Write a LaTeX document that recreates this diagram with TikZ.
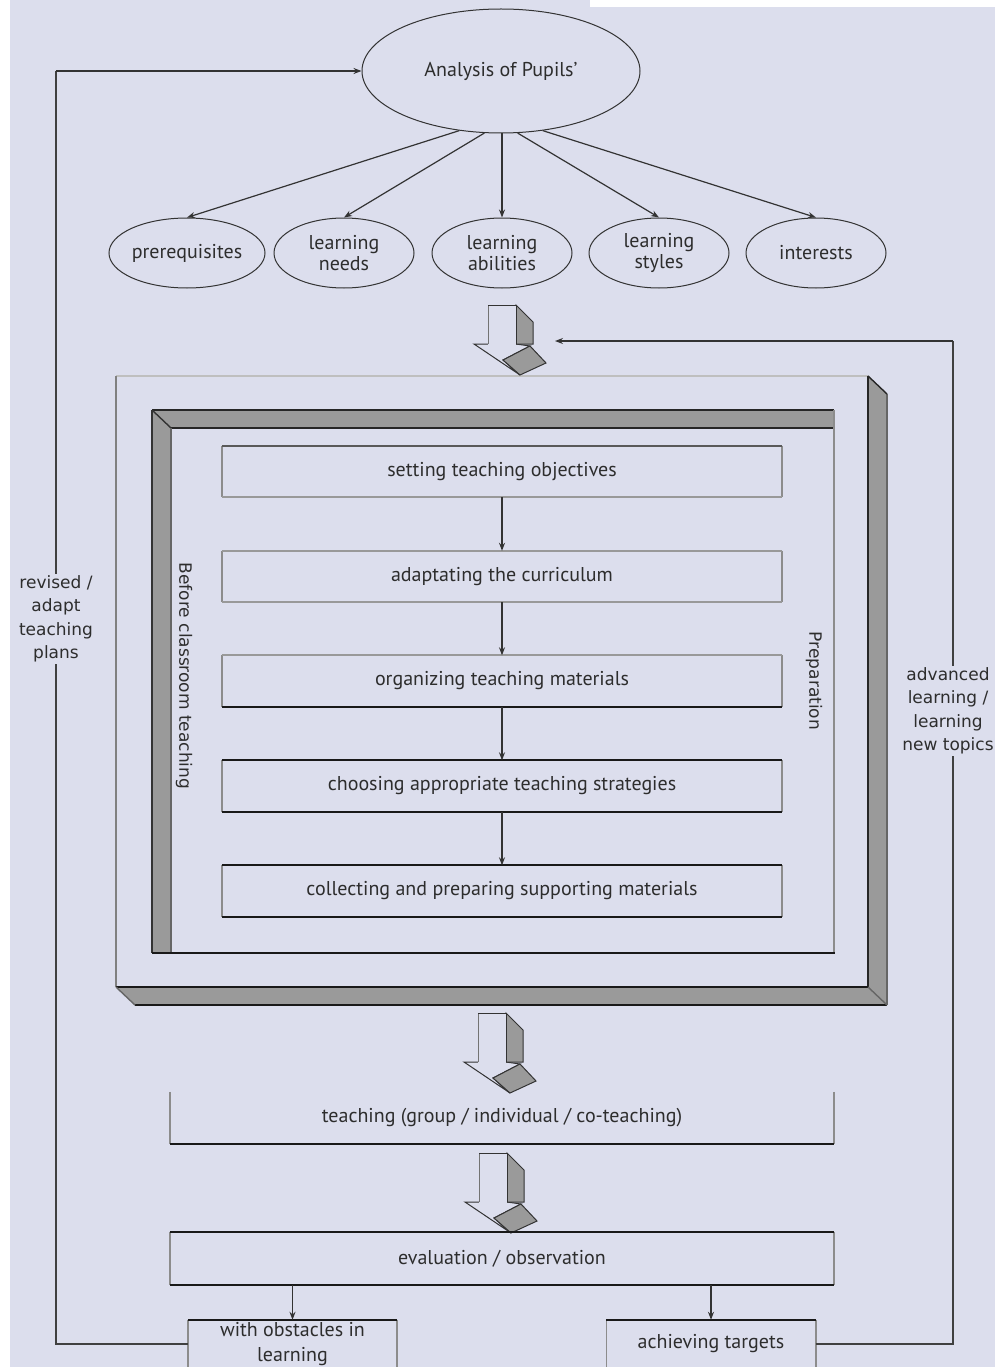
\documentclass[tikz,border=0pt]{standalone}
\usepackage{fontspec}
\setmainfont{PT Sans}
\newfontfamily\sidefont{DejaVu Sans}
\usetikzlibrary{arrows.meta,shapes.geometric}
\definecolor{bg}{RGB}{220,222,237}
\definecolor{greyface}{RGB}{154,154,154}
\definecolor{ink}{RGB}{45,45,45}
\tikzset{
  oval/.style={ellipse, draw=black!80, line width=1pt, inner sep=0pt, align=center,
    text=ink, font=\fontsize{20pt}{21pt}\selectfont},
  bigoval/.style={oval, minimum width=278pt, minimum height=124pt},
  smalloval/.style={oval, minimum width=140pt, minimum height=70pt},
  conn/.style={draw=black!80, line width=1.2pt, -{Stealth[length=8pt,width=6pt]}},
  loopline/.style={draw=black!75, line width=1.6pt},
  boxnode/.style={rectangle, inner sep=0pt, align=center, text=ink,
    font=\fontsize{20pt}{25pt}\selectfont},
  stepbox/.style={boxnode, minimum width=560pt, minimum height=51pt},
  widebox/.style={boxnode, minimum width=664pt, minimum height=52pt},
  endbox/.style={boxnode, minimum width=209pt, minimum height=48pt},
  edgedark/.style={line width=2pt, draw=black!90},
  edgemid/.style={line width=2pt, draw=black!65},
  edgelight/.style={line width=2pt, draw=black!40},
  edgeside/.style={line width=1.6pt, draw=black!45},
  sidelabel/.style={fill=bg, inner sep=2pt, align=center, text=ink,
    font=\sidefont\fontsize{17pt}{23.5pt}\selectfont},
  rotlabel/.style={rotate=-90, inner sep=0pt, text=ink,
    font=\sidefont\fontsize{17pt}{20pt}\selectfont}
}
\newcommand\boxedges[3]{%
  \draw[edgeside] (#1.north west) -- (#1.south west);
  \draw[edgeside] (#1.north east) -- (#1.south east);
  \draw[#2] (#1.north west) -- (#1.north east);
  \draw[#3] (#1.south west) -- (#1.south east);}
\newcommand\blockarrow[3]{%
  \begin{scope}[shift={(#1,#2)}]
    \filldraw[fill=bg, draw=black!80, line width=1pt]
      (-14,#3) -- (28,#3) -- (42,{#3+2}) -- (15,{#3+16}) -- (32,{#3+31}) -- cycle;
    \filldraw[fill=greyface, draw=black!80, line width=1pt]
      (15,{#3+16}) -- (42,{#3+2}) -- (58,{#3+19}) -- (32,{#3+31}) -- cycle;
    \filldraw[fill=greyface, draw=black!80, line width=1pt]
      (28,0) -- (45,17) -- (45,#3) -- (28,#3) -- cycle;
    \fill[bg] (0,0) rectangle (28,{#3+1});
    \draw[black!55, line width=1pt] (0,#3) -- (0,0);
    \draw[black!80, line width=1pt] (0,0) -- (28,0) -- (28,#3);
  \end{scope}}
\begin{document}
\begin{tikzpicture}[x=1pt,y=-1pt]
\useasboundingbox (0,0) rectangle (995,1367);
\fill[bg] (0,0) rectangle (995,1367);
\fill[white] (0,0) rectangle (10,1367);
\fill[white] (590,0) rectangle (995,7);

% top analysis
\node[bigoval] (pupils) at (501,71) {Analysis of Pupils'};
\node[smalloval] (pre) at (187,253) {prerequisites};
\node[smalloval] (needs) at (344,253) {learning\\needs};
\node[smalloval] (abil) at (502,253) {learning\\abilities};
\node[smalloval] (styles) at (659,253) {learning\\styles};
\node[smalloval] (inter) at (816,253) {interests};
\draw[conn] (pupils.235) -- (pre.north);
\draw[conn] (pupils.255) -- (needs.north);
\draw[conn] (pupils.south -| abil.north) -- (abil.north);
\draw[conn] (pupils.285) -- (styles.north);
\draw[conn] (pupils.305) -- (inter.north);

% outer 3D frame
\fill[greyface] (868,376) -- (887,394) -- (887,1005) -- (868,987) -- cycle;
\fill[greyface] (116,987) -- (868,987) -- (887,1005) -- (135,1005) -- cycle;
\draw[line width=2.5pt, draw=black!25] (116,376) -- (868,376);
\draw[line width=2pt, draw=black!50] (116,376) -- (116,987);
\draw[line width=1.8pt, draw=black!85] (868,376) -- (868,987);
\draw[line width=1.8pt, draw=black!90] (116,987) -- (868,987);
\draw[line width=2pt, draw=black!90] (135,1005) -- (887,1005);
\draw[line width=1.6pt, draw=black!60] (887,394) -- (887,1005);
\draw[line width=1.4pt, draw=black!85] (868,376) -- (887,394);
\draw[line width=1.4pt, draw=black!60] (116,987) -- (135,1005);
\draw[line width=1.4pt, draw=black!60] (868,987) -- (887,1005);

% inner recessed frame
\fill[greyface] (152,410) -- (834,410) -- (834,428) -- (171,428) -- (171,953) -- (152,953) -- cycle;
\draw[line width=2pt, draw=black!85] (152,410) -- (834,410);
\draw[line width=2pt, draw=black!85] (171,428) -- (834,428);
\draw[line width=1.4pt, draw=black!80] (152,410) -- (171,428);
\draw[line width=1.6pt, draw=black!80] (152,410) -- (152,953);
\draw[line width=1.6pt, draw=black!60] (171,428) -- (171,953);
\draw[line width=2pt, draw=black!45] (834,410) -- (834,953);
\draw[line width=2pt, draw=black!90] (152,953) -- (835,953);

\node[rotlabel] (before) at (184,676) {Before classroom teaching};
\node[rotlabel] (prep) at (814,681) {Preparation};

% preparation steps
\node[stepbox] (b1) at (502,471.5) {setting teaching objectives};
\node[stepbox] (b2) at (502,576.5) {adaptating the curriculum};
\node[stepbox] (b3) at (502,681) {organizing teaching materials};
\node[stepbox] (b4) at (502,786) {choosing appropriate teaching strategies};
\node[stepbox] (b5) at (502,891) {collecting and preparing supporting materials};
\boxedges{b1}{edgemid}{edgelight}
\boxedges{b2}{edgelight}{edgelight}
\boxedges{b3}{edgelight}{edgedark}
\boxedges{b4}{edgedark}{edgedark}
\boxedges{b5}{edgedark}{edgedark}
\draw[conn] (b1) -- (b2);
\draw[conn] (b2) -- (b3);
\draw[conn] (b3) -- (b4);
\draw[conn] (b4) -- (b5);

% block arrows
\blockarrow{488}{305}{39}
\blockarrow{478}{1013}{49}
\blockarrow{479}{1153}{49}

% lower boxes
\node[widebox] (teach) at (502,1118) {teaching (group / individual / co-teaching)};
\boxedges{teach}{draw=none}{edgedark}
\node[widebox, minimum height=53pt] (eval) at (502,1258.5) {evaluation / observation};
\boxedges{eval}{edgedark}{edgedark}
\node[endbox] (obst) at (292.5,1344) {with obstacles in\\learning};
\node[endbox] (achieve) at (711,1344) {achieving targets};
\draw[edgeside] (obst.north west) -- (obst.south west);
\draw[edgeside] (obst.north east) -- (obst.south east);
\draw[edgedark] (obst.north west) -- (obst.north east);
\draw[edgeside] (achieve.north west) -- (achieve.south west);
\draw[edgeside] (achieve.north east) -- (achieve.south east);
\draw[edgedark] (achieve.north west) -- (achieve.north east);
\draw[conn] (eval.south -| obst.north) -- (obst.north);
\draw[conn] (eval.south -| achieve.north) -- (achieve.north);

% feedback loops
\coordinate (lb) at (56,1344);
\coordinate (lt) at (56,71);
\coordinate (rb) at (953,1344);
\coordinate (rt) at (953,341);
\coordinate (rin) at (555,341);
\draw[loopline] (obst.west) -- (lb) -- (lt);
\draw[conn, line width=1.6pt] (lt) -- (pupils.west);
\draw[loopline] (achieve.east) -- (rb) -- (rt);
\draw[conn, line width=1.6pt] (rt) -- (rin);
\node[sidelabel] (revlabel) at (56,619) {revised /\\adapt\\teaching\\plans};
\node[sidelabel] (advlabel) at (948,711) {advanced\\learning /\\learning\\new topics};
\end{tikzpicture}
\end{document}
